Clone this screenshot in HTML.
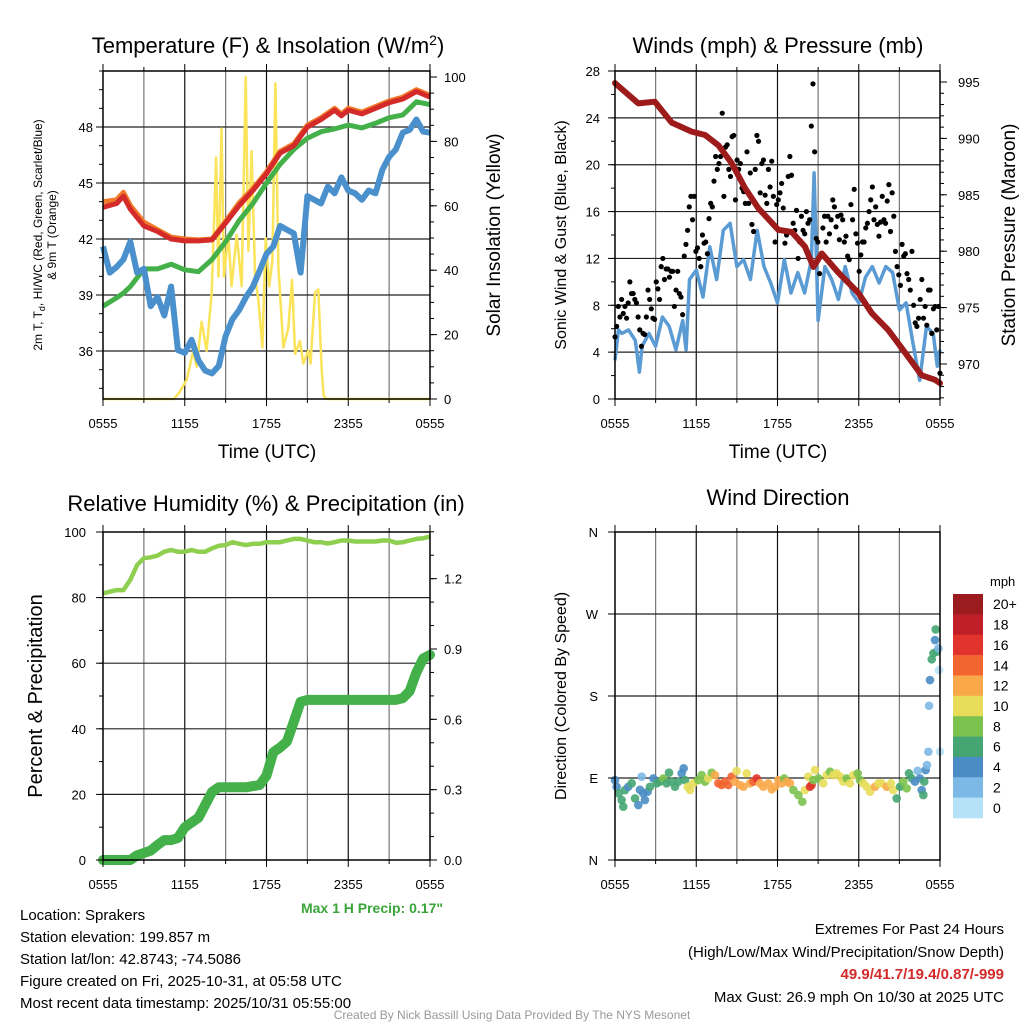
<!DOCTYPE html>
<html><head><meta charset="utf-8"><style>
html,body{margin:0;padding:0;background:#fff;}
body{width:1024px;height:1024px;overflow:hidden;font-family:"Liberation Sans",sans-serif;}
svg text{font-family:"Liberation Sans",sans-serif;}
</style></head><body>
<svg id="s" width="1024" height="1024" viewBox="0 0 1024 1024" xmlns="http://www.w3.org/2000/svg">
<text x="268" y="53" font-size="22" text-anchor="middle">Temperature (F) &amp; Insolation (W/m<tspan dy="-8" font-size="14">2</tspan><tspan dy="8">)</tspan></text>
<text x="778" y="53" font-size="22" text-anchor="middle">Winds (mph) &amp; Pressure (mb)</text>
<text x="266" y="511" font-size="22" text-anchor="middle">Relative Humidity (%) &amp; Precipitation (in)</text>
<text x="778" y="505" font-size="22" text-anchor="middle">Wind Direction</text>

<text transform="translate(42,235) rotate(-90)" font-size="12" text-anchor="middle">2m T, T<tspan dy="3" font-size="9">d</tspan><tspan dy="-3">, HI/WC (Red, Green, Scarlet/Blue)</tspan></text>
<text transform="translate(56,235) rotate(-90)" font-size="12" text-anchor="middle">&amp; 9m T (Orange)</text>
<text transform="translate(500,235) rotate(-90)" font-size="19" text-anchor="middle">Solar Insolation (Yellow)</text>
<text transform="translate(566,235) rotate(-90)" font-size="16" text-anchor="middle">Sonic Wind &amp; Gust (Blue, Black)</text>
<text transform="translate(1015,235) rotate(-90)" font-size="19" text-anchor="middle">Station Pressure (Maroon)</text>
<text transform="translate(42,696) rotate(-90)" font-size="20" text-anchor="middle">Percent &amp; Precipitation</text>
<text transform="translate(566,696) rotate(-90)" font-size="16" text-anchor="middle">Direction (Colored By Speed)</text>
<text x="267" y="458" font-size="19" text-anchor="middle">Time (UTC)</text>
<text x="778" y="458" font-size="19" text-anchor="middle">Time (UTC)</text>

<g font-size="15">
<text x="20" y="920">Location: Sprakers</text>
<text x="20" y="942">Station elevation: 199.857 m</text>
<text x="20" y="964">Station lat/lon: 42.8743; -74.5086</text>
<text x="20" y="986">Figure created on Fri, 2025-10-31, at 05:58 UTC</text>
<text x="20" y="1008">Most recent data timestamp: 2025/10/31 05:55:00</text>
</g>
<text x="443" y="913" font-size="14" font-weight="bold" fill="#3aa43a" text-anchor="end">Max 1 H Precip: 0.17"</text>
<g font-size="15" text-anchor="end">
<text x="1004" y="934">Extremes For Past 24 Hours</text>
<text x="1004" y="957">(High/Low/Max Wind/Precipitation/Snow Depth)</text>
<text x="1004" y="979" fill="#d42a2a" font-weight="bold">49.9/41.7/19.4/0.87/-999</text>
<text x="1004" y="1002">Max Gust: 26.9 mph On 10/30 at 2025 UTC</text>
</g>
<text x="512" y="1019" font-size="12" fill="#999" text-anchor="middle">Created By Nick Bassill Using Data Provided By The NYS Mesonet</text>
</svg>
<script>
// ---------- data ----------
const timeTickLabels = ["0555","1155","1755","2355","0555"];
const tempHours = [0,1,1.5,2,3,4,5,6,7,8,9,10,11,12,13,14,15,16,17,17.5,18,19,20,21,22,23,24];
const redTemp = [43.7,43.9,44.3,43.6,42.7,42.4,42.0,41.9,41.9,41.95,42.85,43.8,44.6,45.5,46.6,47.0,48.0,48.4,48.9,48.6,48.9,48.7,49.0,49.3,49.5,49.9,49.6];
const orangeTemp = [44.0,44.1,44.5,43.8,42.9,42.5,42.1,42.0,41.95,42.0,42.95,43.95,44.7,45.6,46.7,47.1,48.1,48.5,49.0,48.7,49.0,48.8,49.1,49.4,49.6,50.0,49.7];
const greenTemp = [38.4,38.85,39.1,39.45,40.4,40.4,40.65,40.35,40.25,40.9,41.85,43.0,43.9,45.0,46.0,46.8,47.4,47.75,47.9,48.0,48.1,47.95,48.2,48.5,48.65,49.35,49.2];
const blueTemp = [41.6,40.2,40.5,40.9,41.85,40.2,40.4,38.4,38.9,37.9,39.45,36.05,35.9,36.6,35.5,34.95,34.8,35.2,36.8,37.7,38.2,38.9,39.45,40.3,41.2,41.6,42.7,42.5,42.3,40.2,44.3,44.1,43.9,44.8,44.45,45.3,44.6,44.45,44.1,44.6,44.45,45.7,46.4,46.8,47.7,47.85,48.4,47.75,47.7];
const solarHours = [0,5.2,5.6,6.14,6.63,6.87,7.24,7.6,7.98,8.3,8.47,8.7,8.88,9.2,9.44,9.81,10.18,10.47,10.67,10.91,11.16,11.4,11.7,11.94,12.2,12.43,12.65,12.87,13.24,13.6,13.87,14.1,14.46,14.7,15.07,15.24,15.56,15.8,16.05,16.2,16.4,24];
const solarValues = [0,0,2,6,15,10,24,15,33,75,38,84,38,51,35,51,35,100,46,77,38,31,16,50,35,43,98,41,16,22,37,14,18,11,15,11,33,34,9,1,0,0];
const tempTicks = [36,39,42,45,48];
const solarTicks = [0,20,40,60,80,100];

const presHours = [0,1.72,2.95,4.19,5.66,6.65,7.63,8.62,9.6,10.59,12.06,13.05,14.03,14.65,15.27,16.5,17.97,18.96,20.19,21.42,22.65,23.63,24];
const presValues = [994.9,993.1,993.25,991.4,990.6,990.3,989.4,987.8,985.6,983.8,981.9,981.7,980.4,978.6,979.8,978.1,976.3,974.5,973.0,971.0,969.0,968.6,968.3];
const windHours = [0,0.25,0.5,1,1.5,1.8,2,2.5,3,3.5,4,4.5,5,5.25,5.5,6,6.5,7,7.5,8,8.5,9,9.5,10,10.5,11,11.5,12,12.5,13,13.5,14,14.5,14.7,15,15.5,16,16.5,17,17.5,18,18.5,19,19.5,20,20.5,21,21.5,22,22.5,23,23.5,23.8,24];
const windValues = [3.3,5.9,5.6,5.9,5.0,2.3,4.5,5.6,4.5,7.0,6.2,4.2,6.7,4.2,10.2,11.0,8.7,13.0,10.2,14.4,15.0,11.3,11.9,10.2,14.4,11.3,9.9,8.2,11.9,9.05,10.8,9.05,11.9,19.3,6.7,11.3,10.2,8.5,11.3,9.05,8.2,10.4,11.3,9.9,11.3,10.8,7.6,8.2,4.8,1.6,6.2,5.6,2.8,4.2];
const gustValues = [5.3,6.2,7.9,7.0,8.5,7.3,7.9,6.9,8.2,10.0,9.0,9.0,8.5,8.2,7.0,5.9,4.5,5.6,5.5,7.0,9.3,8.5,7.7,6.9,6.8,10.0,9.4,8.5,11.3,12.0,10.2,11.1,11.1,10.4,10.9,10.9,7.9,9.3,10.9,9.0,8.7,7.2,12.2,13.2,14.4,16.4,17.3,15.3,17.3,12.6,12.9,12.0,11.3,14.0,13.3,13.4,12.4,15.4,16.7,16.4,18.6,20.7,19.6,20.1,20.7,24.4,17.3,21.5,21.7,19.6,19.0,22.4,22.5,17.0,20.4,19.6,20.1,18.0,17.7,16.7,21.1,16.7,19.3,14.9,14.3,19.6,22.5,22.0,17.6,20.1,20.4,17.4,16.7,19.6,18.1,20.3,17.3,13.4,16.6,17.0,17.6,18.4,16.3,13.3,14.0,19.0,20.7,19.1,15.0,14.4,16.1,12.0,13.4,15.6,14.4,14.1,16.0,15.0,15.3,23.3,26.9,21.1,13.7,13.4,10.7,12.4,14.6,15.6,13.4,15.6,14.1,15.3,17.0,16.4,14.7,15.6,13.6,15.7,15.3,13.4,13.9,12.2,11.9,16.6,15.3,17.9,14.1,13.3,10.9,12.3,13.4,13.4,14.6,15.0,16.0,17.0,18.1,15.3,16.4,14.9,13.9,15.1,17.3,15.3,15.0,16.9,18.3,14.3,17.6,15.6,12.6,11.3,10.6,9.7,13.2,12.2,12.4,10.7,10.2,9.3,12.6,8.0,6.5,6.2,6.9,8.5,10.2,6.9,7.9,6.3,9.3,9.3,5.6,7.7,7.9,5.9,7.9,2.2];
const windTicks = [0,4,8,12,16,20,24,28];
const presTicks = [970,975,980,985,990,995];

const rhValues = [81.3,81.8,82.3,82.3,85.4,89.9,92.0,92.3,92.8,94.0,94.5,94.0,94.0,94.5,94.0,94.0,95.0,95.8,96.0,96.9,96.4,96.0,96.4,96.4,96.9,96.9,96.9,97.4,97.9,97.9,97.4,96.9,96.9,96.5,96.9,97.4,97.4,97.1,97.1,97.1,97.1,97.4,97.4,96.7,96.9,97.4,97.9,98.1,98.6];
const precipValues = [0,0,0,0,0,0.02,0.03,0.04,0.064,0.085,0.085,0.094,0.14,0.16,0.18,0.235,0.29,0.31,0.31,0.31,0.31,0.31,0.315,0.32,0.36,0.46,0.48,0.505,0.59,0.675,0.683,0.683,0.683,0.683,0.683,0.683,0.683,0.683,0.683,0.683,0.683,0.683,0.683,0.683,0.69,0.72,0.80,0.86,0.875];
const pctTicks = [0,20,40,60,80,100];
const precipTicks = [0,0.3,0.6,0.9,1.2];
const precipTickLabels = ["0.0","0.3","0.6","0.9","1.2"];

const dirHours = [0,0.12,0.29,0.49,0.61,0.74,0.98,1.23,1.48,1.72,1.84,1.97,2.09,2.21,2.41,2.58,2.83,3.08,3.32,3.57,3.81,3.99,4.18,4.43,4.68,4.92,5.07,5.17,5.37,5.54,5.78,6.15,6.4,6.65,6.89,7.14,7.38,7.63,7.88,8.12,8.37,8.61,8.86,8.98,9.23,9.48,9.72,9.97,10.22,10.46,10.71,10.95,11.32,11.57,11.82,12.06,12.31,12.5,12.68,12.92,13.17,13.54,13.83,14.03,14.28,14.4,14.52,14.65,14.77,15.02,15.38,15.63,15.88,16.12,16.37,16.62,16.86,17.11,17.35,17.6,17.92,18.09,18.34,18.59,18.83,19.2,19.45,19.69,20.06,20.38,20.55,20.8,21.05,21.29,21.54,21.71,21.91,22.15,22.35,22.52,22.65,22.77,22.84,22.94,23.04,23.14,23.19,23.26,23.39,23.51,23.63,23.68,23.75,23.88,23.93,24.0];
const dirDegrees = [87.7,80.4,73.1,65.8,58.5,76.8,80.4,84.2,67.6,60.3,77,91.4,73,65.8,74.9,80.4,89.6,84.2,86,89.6,84.2,95.8,86,80.4,86,95.1,100.6,87.7,80.4,76.8,84.2,87.7,93.2,86,89.6,95.8,93.2,84.2,82.3,86,82.3,91.4,86,97.6,82.3,80.4,95.1,84.2,86,89.6,84.2,80.4,84.2,77.5,80.4,87.7,84.2,89.6,86,84.2,76.8,71.3,64,76.8,91.4,80.4,82.3,87.7,98.7,89.6,84.2,93.2,96.9,93.2,95.1,91.4,86,89.6,84.2,93.2,95.1,87.7,84.2,80.4,74.9,80.4,84.2,84.2,80.4,84.2,76.8,67.6,80.4,86,78.6,95.1,89.6,86,97.9,89.6,76.8,71.3,86,98.7,104.2,118.8,169.3,197.5,220.2,226.8,241.4,253.1,228.6,232.3,208.5,118.8];
const dirSpeeds = [5,5,7,7,7,7,5,7,6,5,4.5,3,5,5,5,7,5,7,7,8.5,7,7,7,7,7,5,5,7,11,11,10.5,9,9,9,11,9,13,15,15,15,15,15,13,11,13,13,11,13,15,16.5,13,13,13,13,13,13,13,9,13,13,9,9,9,11,11,17,17.5,9,11,9,11,11,9,11,11,11,11,9,11,11,9,9,11,11,11,12.5,11,11,12.5,11,11,7,7,9,9,7,7,5,3,5,5,7,7,5,3,3,3,5,7,7,5,7,7,3,1,1];
const dirTicks = [0,90,180,270,360];
const dirTickLabels = ["N","E","S","W","N"];
const speedBinLabels = ["20+","18","16","14","12","10","8","6","4","2","0"];
const speedBinColors = ["#9b1b1e","#c01f2a","#e0342c","#f26430","#f9a84a","#e8dd5a","#7cc24e","#45a673","#4a8dc4","#7db9e6","#b6e2f8"];

// ---------- helpers ----------
const NS="http://www.w3.org/2000/svg";
const svg=document.getElementById('s');
function mk(tag,attrs,name,parent){
  const el=document.createElementNS(NS,tag);
  for(const k in attrs) el.setAttribute(k,attrs[k]);
  
  
  (parent||svg).appendChild(el);
  return el;
}
function lin(d0,d1,r0,r1){return v=>r0+(v-d0)*(r1-r0)/(d1-d0);}
function txt(x,y,s,size,anchor,name,parent){const t=mk('text',{x:x,y:y,'font-size':size,'text-anchor':anchor},name,parent);t.textContent=s;return t;}
function pathD(xs,ys){return xs.map((x,i)=>(i?'L':'M')+x.toFixed(1)+' '+ys[i].toFixed(1)).join(' ');}

function frame(p,name){
  const g=mk('g',{},name);
  for(let h=3;h<24;h+=3){mk('line',{x1:p.x(h),x2:p.x(h),y1:p.T,y2:p.B,stroke:(h%6?'#777':'#111'),'stroke-width':1.2},'vertical-gridline',g);}
  return g;
}
function hgrid(g,p,vals,fy){vals.forEach(v=>{const y=fy(v);if(y>p.T+1&&y<p.B-1)mk('line',{x1:p.L,x2:p.R,y1:y,y2:y,stroke:'#222','stroke-width':1.2},'horizontal-gridline',g);});}
function border(g,p){mk('rect',{x:p.L,y:p.T,width:p.R-p.L,height:p.B-p.T,fill:'none',stroke:'#000','stroke-width':1.5},'plot-frame',g);}
function xaxis(g,p){
  for(let h=0;h<=24;h+=3){const x=p.x(h);mk('line',{x1:x,x2:x,y1:p.B,y2:p.B+(h%6?4:7),stroke:'#000'},'x-tick',g);mk('line',{x1:x,x2:x,y1:p.T,y2:p.T-(h%6?4:7),stroke:'#000'},'x-tick-top',g);}
  timeTickLabels.forEach((s,i)=>txt(p.x(i*6),p.B+29,s,13,'middle','x-tick-label',g));
}
function yticks(g,side,p,fy,major,minorStep,min,max){
  const x0=side==='L'?p.L:p.R, dir=side==='L'?-1:1;
  for(let v=min;v<=max+1e-6;v+=minorStep){const y=fy(v);if(y<p.T-0.5||y>p.B+0.5)continue;mk('line',{x1:x0,x2:x0+dir*4,y1:y,y2:y,stroke:'#000'},'y-minor-tick',g);}
  major.forEach(v=>{const y=fy(v);mk('line',{x1:x0,x2:x0+dir*7,y1:y,y2:y,stroke:'#000'},'y-major-tick',g);});
}

// ---------- Panel 1: temperature ----------
{
const p={L:103,R:430,T:71,B:399};p.x=lin(0,24,p.L,p.R);
const yT=lin(36,48,351,127), yS=lin(0,100,399,77);
const g=frame(p,'temperature-panel');
hgrid(g,p,tempTicks,yT);
mk('path',{d:pathD(solarHours.map(p.x),solarValues.map(yS)),fill:'none',stroke:'#fbe35a','stroke-width':2.5,'stroke-linejoin':'round'},'solar-line',g);
mk('path',{d:pathD(tempHours.map(p.x),greenTemp.map(yT)),fill:'none',stroke:'#44b04a','stroke-width':5,'stroke-linejoin':'round'},'dewpoint-green-line',g);
mk('path',{d:pathD(blueTemp.map((v,i)=>p.x(i*0.5)),blueTemp.map(yT)),fill:'none',stroke:'#4a90cc','stroke-width':6,'stroke-linejoin':'round'},'windchill-blue-line',g);
mk('path',{d:pathD(tempHours.map(p.x),orangeTemp.map(yT)),fill:'none',stroke:'#f07a2a','stroke-width':5,'stroke-linejoin':'round'},'temp-9m-orange-line',g);
mk('path',{d:pathD(tempHours.map(p.x),redTemp.map(yT)),fill:'none',stroke:'#d42a2a','stroke-width':5,'stroke-linejoin':'round'},'temp-2m-red-line',g);
border(g,p);xaxis(g,p);
yticks(g,'L',p,yT,tempTicks,1,34,51);
yticks(g,'R',p,yS,solarTicks,5,0,100);
tempTicks.forEach(v=>txt(93,yT(v)+5,String(v),13,'end','temp-tick-label',g));
solarTicks.forEach(v=>txt(444,yS(v)+5,String(v),13,'start','solar-tick-label',g));
}
// ---------- Panel 2: winds ----------
{
const p={L:615,R:940,T:71,B:399};p.x=lin(0,24,p.L,p.R);
const yW=lin(0,28,399,71), yP=lin(970,995,364,82);
const g=frame(p,'winds-panel');
hgrid(g,p,windTicks,yW);
mk('path',{d:pathD(windHours.map(p.x),windValues.map(yW)),fill:'none',stroke:'#5a9bd4','stroke-width':3.5,'stroke-linejoin':'round'},'sonic-wind-line',g);
const n=gustValues.length;
gustValues.forEach((v,i)=>{mk('circle',{cx:p.x(i*24/(n-1)),cy:yW(v),r:2.6,fill:'#000'},'gust-point',g);});
mk('path',{d:pathD(presHours.map(p.x),presValues.map(yP)),fill:'none',stroke:'#9e1b1b','stroke-width':6,'stroke-linejoin':'round','stroke-linecap':'round'},'pressure-line',g);
border(g,p);xaxis(g,p);
yticks(g,'L',p,yW,windTicks,2,0,28);
yticks(g,'R',p,yP,presTicks,1,967,995);
windTicks.forEach(v=>txt(600,yW(v)+5,String(v),13,'end','wind-tick-label',g));
presTicks.forEach(v=>txt(958,yP(v)+5,String(v),13,'start','pressure-tick-label',g));
}
// ---------- Panel 3: humidity ----------
{
const p={L:103,R:430,T:532,B:860};p.x=lin(0,24,p.L,p.R);
const yR=lin(0,100,860,532), yPr=lin(0,0.9,860,649);
const g=frame(p,'humidity-panel');
hgrid(g,p,pctTicks,yR);
mk('path',{d:pathD(rhValues.map((v,i)=>p.x(i*0.5)),rhValues.map(yR)),fill:'none',stroke:'#8fcf50','stroke-width':4.5,'stroke-linejoin':'round'},'relative-humidity-line',g);
mk('path',{d:pathD(precipValues.map((v,i)=>p.x(i*0.5)),precipValues.map(yPr)),fill:'none',stroke:'#44b04a','stroke-width':10,'stroke-linejoin':'round','stroke-linecap':'round'},'precipitation-line',g);
border(g,p);xaxis(g,p);
yticks(g,'L',p,yR,pctTicks,10,0,100);
yticks(g,'R',p,yPr,precipTicks,0.1,0,1.4);
pctTicks.forEach(v=>txt(86,yR(v)+5,String(v),13,'end','percent-tick-label',g));
precipTicks.forEach((v,i)=>txt(444,yPr(v)+5,precipTickLabels[i],13,'start','precip-tick-label',g));
}
// ---------- Panel 4: wind direction ----------
{
const p={L:615,R:940,T:532,B:860};p.x=lin(0,24,p.L,p.R);
const yD=lin(0,360,860,532);
const g=frame(p,'wind-direction-panel');
hgrid(g,p,dirTicks,yD);
function binColor(s){let idx=Math.min(10,Math.floor(s/2));return speedBinColors[10-idx];}
dirDegrees.forEach((d,i)=>{mk('circle',{cx:p.x(dirHours[i]),cy:yD(d),r:4.3,fill:binColor(dirSpeeds[i]),'fill-opacity':0.9},'direction-point',g);});
border(g,p);xaxis(g,p);
yticks(g,'L',p,yD,dirTicks,360,0,0);
dirTicks.forEach((v,i)=>txt(598,yD(v)+5,dirTickLabels[i],13,'end','direction-tick-label',g));
const cb=mk('g',{},'speed-colorbar');
txt(990,586,'mph',13,'start','colorbar-unit-label',cb);
const h=224/speedBinColors.length;
speedBinColors.forEach((c,i)=>{mk('rect',{x:953,y:594+i*h,width:30,height:h+0.3,fill:c},'colorbar-swatch',cb);txt(993,594+i*h+h/2+5,speedBinLabels[i],14,'start','colorbar-label',cb);});
}
</script>
</body></html>
